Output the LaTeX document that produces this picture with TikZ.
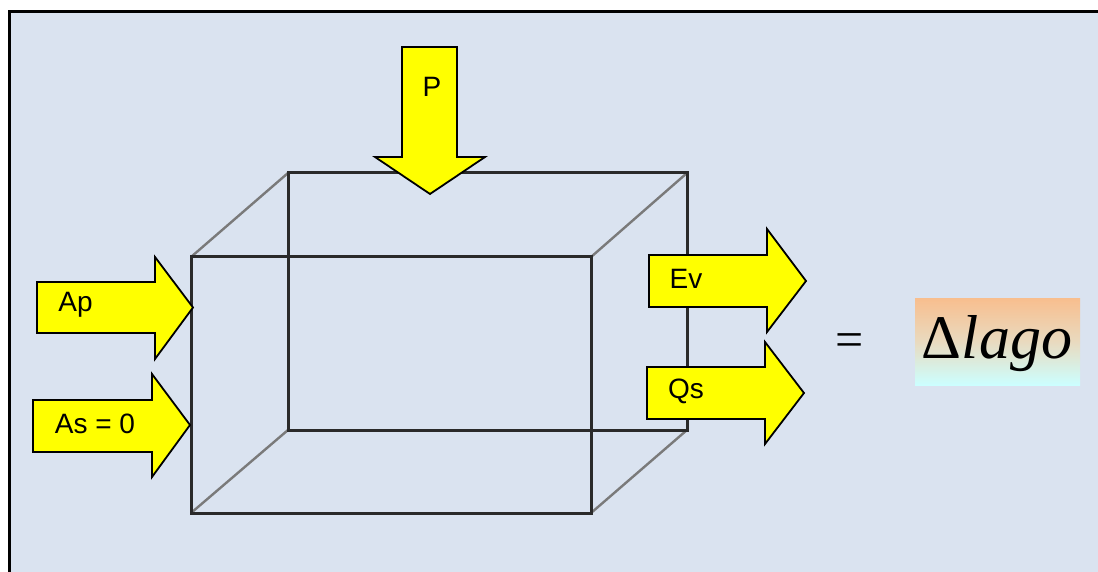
\documentclass[tikz,border=0pt]{standalone}
\usepackage{fontspec}
\setmainfont{Liberation Sans}
\newfontfamily\serifont{Liberation Serif}
\definecolor{bgblue}{HTML}{DAE3F0}
\definecolor{arrowyellow}{HTML}{FFFF00}
\definecolor{edgedark}{HTML}{2A2A2A}
\definecolor{edgegray}{HTML}{7A7A7A}
\definecolor{topor}{HTML}{F8BE8E}
\definecolor{midbe}{HTML}{E9DABF}
\definecolor{botcy}{HTML}{CCFFFF}
\tikzset{
  flowarrow/.style={fill=arrowyellow, draw=black, line width=1.8pt, line join=miter},
  flowlabel/.style={font=\fontsize{28}{32}\selectfont, text=black, inner sep=0pt},
  cubeedge/.style={draw=edgedark, line width=3pt},
  cubediag/.style={draw=edgegray, line width=2.4pt},
}
\begin{document}
\begin{tikzpicture}[x=1pt,y=-1pt]
\useasboundingbox (0,0) rectangle (1098,572);
% frame
\fill[white] (0,0) rectangle (1098,572);
\filldraw[fill=bgblue, draw=black, line width=3.5pt] (1110,11.5) -- (9.5,11.5) -- (9.5,590);
\fill[bgblue] (11.5,13.5) rectangle (1098,572);
% cube
\coordinate (f1) at (191,257);
\coordinate (f2) at (591,257);
\coordinate (f3) at (591,513);
\coordinate (f4) at (191,513);
\coordinate (b1) at (288,173);
\coordinate (b2) at (687,173);
\coordinate (b3) at (687,430);
\coordinate (b4) at (288,430);
\draw[cubediag] (f1) -- (b1);
\draw[cubediag] (f2) -- (b2);
\draw[cubediag] (f3) -- (b3);
\draw[cubediag] (f4) -- (b4);
\draw[cubeedge] (b1) -- (b2) -- (b3) -- (b4) -- cycle;
\draw[cubeedge] (f1) -- (f2) -- (f3) -- (f4) -- cycle;
% P arrow
\draw[flowarrow] (402,47) -- (457,47) -- (457,157) -- (485,157) -- (430,194) -- (375,157) -- (402,157) -- cycle;
\node[flowlabel] (P) at (432,87) {P};
% Ap arrow
\draw[flowarrow] (37,282) -- (155,282) -- (155,257) -- (193,307.5) -- (155,359) -- (155,333) -- (37,333) -- cycle;
\node[flowlabel] (Ap) at (75.5,305) {Ap};
% As arrow
\draw[flowarrow] (33,400) -- (152,400) -- (152,374) -- (190,425) -- (152,477) -- (152,452) -- (33,452) -- cycle;
\node[flowlabel] (As) at (95,424) {As = 0};
% Ev arrow
\draw[flowarrow] (649,255) -- (767,255) -- (767,229) -- (806,281) -- (767,332) -- (767,307) -- (649,307) -- cycle;
\node[flowlabel] (Ev) at (686,279) {Ev};
% Qs arrow
\draw[flowarrow] (647,367) -- (765,367) -- (765,342) -- (804,393) -- (765,444) -- (765,419) -- (647,419) -- cycle;
\node[flowlabel] (Qs) at (686,391) {Qs};
% equals and result
\node[font=\serifont\fontsize{50}{54}\selectfont, inner sep=0pt] (eq) at (850,345.5) {=};
\shade[top color=topor, bottom color=botcy, middle color=midbe] (915,298) rectangle (1080,385);
\node[font=\serifont\fontsize{62}{66}\selectfont, inner sep=0pt] (lago) at (997,344) {Δ\textit{lago}};
\end{tikzpicture}
\end{document}
